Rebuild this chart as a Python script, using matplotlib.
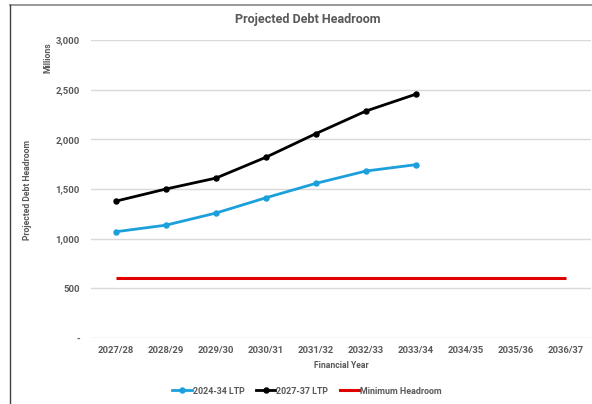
import matplotlib
matplotlib.use("Agg")
import matplotlib.pyplot as plt
from matplotlib.lines import Line2D

years = ["2027/28", "2028/29", "2029/30", "2030/31", "2031/32",
         "2032/33", "2033/34", "2034/35", "2035/36", "2036/37"]
ltp_2024 = [1070, 1136, 1258, 1412, 1557, 1681, 1745]
ltp_2027 = [1378, 1500, 1610, 1820, 2058, 2285, 2455]
min_headroom = [600] * 10
yticks = [0, 500, 1000, 1500, 2000, 2500, 3000]
ytick_labels = ["-", "500", "1,000", "1,500", "2,000", "2,500", "3,000"]

GRAY = "#595959"
FONT = ["Roboto", "DejaVu Sans"]
plt.rcParams["font.family"] = FONT

fig = plt.figure(figsize=(5.92, 4.04), dpi=100)
W, H = 592, 404
ax = fig.add_axes([91 / W, 1 - 338 / H, 500 / W, 298 / H])

x = list(range(len(years)))
ax.plot(x, min_headroom, color="#e00000", lw=2.2, solid_capstyle="butt",
        label="Minimum Headroom", zorder=3)
ax.plot(x[:len(ltp_2024)], ltp_2024, color="#1ca0dc", lw=2.0, marker="o",
        ms=3.6, label="2024-34 LTP", zorder=4)
ax.plot(x[:len(ltp_2027)], ltp_2027, color="#000000", lw=2.0, marker="o",
        ms=3.6, label="2027-37 LTP", zorder=5)

ax.set_xlim(-0.5, len(years) - 0.5)
ax.set_ylim(0, 3000)
ax.set_yticks(yticks)
ax.set_yticklabels(ytick_labels)
ax.set_xticks(x)
ax.set_xticklabels(years)
for sp in ax.spines.values():
    sp.set_visible(False)
ax.grid(axis="y", color="#d9d9d9", lw=1.0)
ax.set_axisbelow(True)
ax.tick_params(axis="both", length=0, labelsize=6.8, colors=GRAY)
ax.tick_params(axis="x", pad=6)
ax.tick_params(axis="y", pad=8)
for lab in ax.get_xticklabels() + ax.get_yticklabels():
    lab.set_fontweight("bold")

fig.text(308 / W, 1 - 20 / H, "Projected Debt Headroom", ha="center",
         va="center", fontsize=9.0, fontweight="bold", color=GRAY)
fig.text(48 / W, 1 - 58 / H, "Millions", rotation=90, ha="center",
         va="center", fontsize=6.2, fontweight="bold", color=GRAY)
fig.text(28 / W, 1 - 190 / H, "Projected Debt Headroom", rotation=90,
         ha="center", va="center", fontsize=6.2, fontweight="bold", color=GRAY)
fig.text(341 / W, 1 - 366 / H, "Financial Year", ha="center", va="center",
         fontsize=6.2, fontweight="bold", color=GRAY)

handles = [
    Line2D([], [], color="#1ca0dc", lw=2.0, marker="o", ms=3.6),
    Line2D([], [], color="#000000", lw=2.0, marker="o", ms=3.6),
    Line2D([], [], color="#e00000", lw=2.2),
]
leg = fig.legend(handles, ["2024-34 LTP", "2027-37 LTP", "Minimum Headroom"],
                 loc="center", bbox_to_anchor=(307 / W, 1 - 391 / H), ncol=3,
                 frameon=False, handlelength=2.2, handletextpad=0.1,
                 columnspacing=1.3, prop={"size": 6.4, "weight": "bold"})
for t in leg.get_texts():
    t.set_color(GRAY)

# chart border lines (top and left)
fig.add_artist(Line2D([10 / W, 1], [1 - 5 / H, 1 - 5 / H], color="#909090",
                      lw=1.3, transform=fig.transFigure))
fig.add_artist(Line2D([10 / W, 10 / W], [1 - 5 / H, 0], color="#404040",
                      lw=1.0, transform=fig.transFigure))

fig.savefig("out.png", dpi=100)
